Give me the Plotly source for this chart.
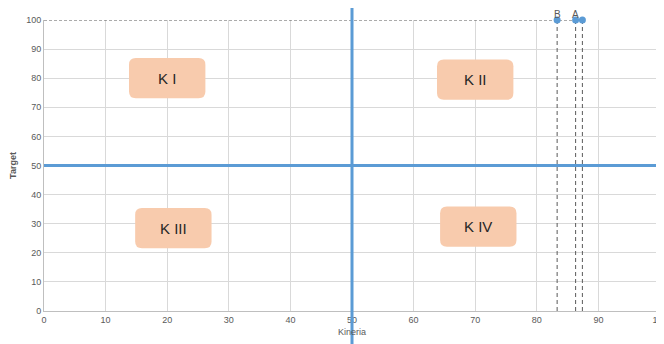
import plotly.graph_objects as go

# Data
point_labels = ["B", "A", ""]
kineria = [83.3, 86.3, 87.4]
target = [100, 100, 100]

quadrant_names = ["K I", "K II", "K III", "K IV"]
quadrant_x = [20, 70, 21, 70.5]
quadrant_y = [80, 79.5, 28.5, 29]
box_half_w = 6.2
box_half_h = 6.9

threshold_x = 50
threshold_y = 50

x_ticks = list(range(0, 101, 10))
y_ticks = list(range(0, 101, 10))

BLUE = "#5B9BD5"
GRAY_TXT = "#595959"
GRID = "#D9D9D9"
BOX = "#F8CBAD"

fig = go.Figure()

# dashed guide lines
fig.add_trace(go.Scatter(x=[0, max(kineria)], y=[target[0], target[0]], mode="lines",
                         line=dict(color="#595959", width=1, dash="3px,2px"),
                         hoverinfo="skip", showlegend=False))
for xv, yv in zip(kineria, target):
    fig.add_trace(go.Scatter(x=[xv, xv], y=[0, yv], mode="lines",
                             line=dict(color="#595959", width=1, dash="4px,3px"),
                             hoverinfo="skip", showlegend=False))

fig.add_trace(go.Scatter(x=kineria, y=target, mode="markers",
                         marker=dict(color=BLUE, size=7), cliponaxis=False, showlegend=False))

shapes = []
# rounded boxes
rx, ry = 1.1, 2.3
for cx, cy in zip(quadrant_x, quadrant_y):
    x0, x1 = cx - box_half_w, cx + box_half_w
    y0, y1 = cy - box_half_h, cy + box_half_h
    path = (f"M {x0+rx},{y0} L {x1-rx},{y0} Q {x1},{y0} {x1},{y0+ry} "
            f"L {x1},{y1-ry} Q {x1},{y1} {x1-rx},{y1} L {x0+rx},{y1} "
            f"Q {x0},{y1} {x0},{y1-ry} L {x0},{y0+ry} Q {x0},{y0} {x0+rx},{y0} Z")
    shapes.append(dict(type="path", path=path, xref="x", yref="y",
                       fillcolor=BOX, line=dict(width=0), layer="above"))

# threshold lines
shapes.append(dict(type="line", xref="x", yref="paper", x0=threshold_x, x1=threshold_x,
                   y0=-0.15, y1=1.041, line=dict(color=BLUE, width=3), layer="above"))
shapes.append(dict(type="line", xref="paper", yref="y", x0=0, x1=1.02,
                   y0=threshold_y, y1=threshold_y, line=dict(color=BLUE, width=3), layer="above"))

annotations = []
for name, cx, cy in zip(quadrant_names, quadrant_x, quadrant_y):
    annotations.append(dict(x=cx, y=cy, xref="x", yref="y", text=name, showarrow=False,
                            font=dict(family="Liberation Sans, Arial", size=15, color="#262626")))
for lab, xv, yv in zip(point_labels, kineria, target):
    if lab:
        annotations.append(dict(x=xv, y=yv, xref="x", yref="y", text=lab, showarrow=False,
                                yanchor="bottom", yshift=-1, borderpad=0,
                                font=dict(family="Liberation Sans, Arial", size=10, color=GRAY_TXT)))

fig.update_layout(
    width=664, height=344,
    margin=dict(l=36, r=12, t=12, b=41),
    paper_bgcolor="white", plot_bgcolor="white",
    shapes=shapes, annotations=annotations,
    font=dict(family="Liberation Sans, Arial", size=9, color=GRAY_TXT),
)
fig.update_xaxes(range=[0, 100], tickvals=x_ticks, showgrid=True, gridcolor=GRID, gridwidth=1,
                 showline=True, linecolor="#BFBFBF", linewidth=1, zeroline=False, ticks="",
                 automargin=False,
                 tickfont=dict(size=9, color=GRAY_TXT),
                 title=dict(text="Kineria", font=dict(size=9, color=GRAY_TXT), standoff=4))
fig.update_yaxes(range=[0, 100], tickvals=y_ticks, showgrid=True, gridcolor=GRID, gridwidth=1,
                 showline=True, linecolor="#BFBFBF", linewidth=1, zeroline=False, ticks="",
                 automargin=False,
                 tickfont=dict(size=9, color=GRAY_TXT),
                 title=dict(text="<b>Target</b>", font=dict(size=9, color=GRAY_TXT), standoff=8))

fig.write_html("out.html")
